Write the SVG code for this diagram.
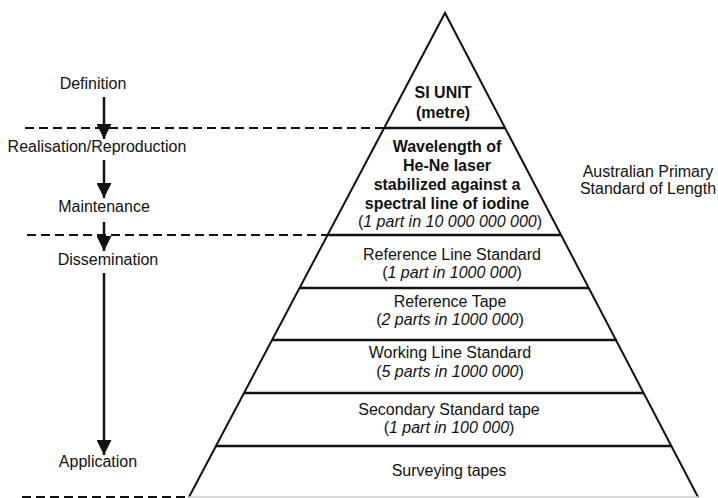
<svg xmlns="http://www.w3.org/2000/svg" width="718" height="498" viewBox="0 0 718 498">
  <style>
    text { font-family: "Liberation Sans", Arial, sans-serif; font-size: 16px; fill: #111; text-anchor: middle; }
    .b { font-weight: bold; }
    .i { font-style: italic; }
    .edge { stroke: #111; stroke-width: 2; fill: none; stroke-linejoin: miter; }
    .tier { stroke: #111; stroke-width: 2.5; }
    .dash { stroke: #111; stroke-width: 2; stroke-dasharray: 9 5; }
    .flow { stroke: #111; stroke-width: 2.5; }
  </style>
  <defs>
    <marker id="head" viewBox="0 0 10 10" refX="10" refY="5" markerWidth="6" markerHeight="6" markerUnits="strokeWidth" orient="auto">
      <path d="M0,0 L10,5 L0,10 Z" fill="#111"/>
    </marker>
  </defs>

  <rect width="718" height="498" fill="#fff"/>

  <!-- pyramid outline and tier divisions -->
  <g id="pyramid">
    <path class="edge" d="M189,497 L445,13 L698,497"/>
    <line x1="189" y1="497" x2="698" y2="497" stroke="#ccc" stroke-width="1.5"/>
    <line class="tier" x1="384" y1="128" x2="505" y2="128"/>
    <line class="tier" x1="327" y1="235" x2="561" y2="235"/>
    <line class="tier" x1="300" y1="288" x2="589" y2="288"/>
    <line class="tier" x1="272" y1="340" x2="617" y2="340"/>
    <line class="tier" x1="244" y1="393" x2="644" y2="393"/>
    <line class="tier" x1="216" y1="446" x2="672" y2="446"/>
  </g>

  <!-- boundaries between stages -->
  <g id="boundaries">
    <line class="dash" x1="25" y1="128" x2="384" y2="128"/>
    <line class="dash" x1="27" y1="235" x2="327" y2="235"/>
    <line class="dash" x1="22" y1="497" x2="189" y2="497"/>
  </g>

  <!-- stage flow arrows -->
  <g id="connectors">
    <line class="flow" x1="104" y1="97" x2="104" y2="139" marker-end="url(#head)"/>
    <line class="flow" x1="104" y1="160" x2="104" y2="198" marker-end="url(#head)"/>
    <line class="flow" x1="104" y1="222" x2="104" y2="251" marker-end="url(#head)"/>
    <line class="flow" x1="104" y1="273" x2="104" y2="455" marker-end="url(#head)"/>
  </g>

  <!-- stage labels -->
  <g id="stage-definition"><text x="93" y="89">Definition</text></g>
  <g id="stage-realisation"><text x="97" y="152">Realisation/Reproduction</text></g>
  <g id="stage-maintenance"><text x="104" y="212">Maintenance</text></g>
  <g id="stage-dissemination"><text x="108" y="265">Dissemination</text></g>
  <g id="stage-application"><text x="98" y="467">Application</text></g>

  <!-- pyramid tiers -->
  <g id="tier-si-unit">
    <text class="b" x="443" y="98">SI UNIT</text>
    <text class="b" x="443" y="118">(metre)</text>
  </g>
  <g id="tier-laser">
    <text class="b" x="447" y="152">Wavelength of</text>
    <text class="b" x="447" y="171">He-Ne laser</text>
    <text class="b" x="447" y="190">stabilized against a</text>
    <text class="b" x="447" y="209">spectral line of iodine</text>
    <text x="450" y="227">(<tspan class="i">1 part in 10 000 000 000</tspan>)</text>
  </g>
  <g id="tier-reference-line">
    <text x="452" y="260">Reference Line Standard</text>
    <text x="452" y="278">(<tspan class="i">1 part in 1000 000</tspan>)</text>
  </g>
  <g id="tier-reference-tape">
    <text x="450" y="307">Reference Tape</text>
    <text x="450" y="325">(<tspan class="i">2 parts in 1000 000</tspan>)</text>
  </g>
  <g id="tier-working-line">
    <text x="450" y="358">Working Line Standard</text>
    <text x="450" y="377">(<tspan class="i">5 parts in 1000 000</tspan>)</text>
  </g>
  <g id="tier-secondary-tape">
    <text x="449" y="415">Secondary Standard tape</text>
    <text x="449" y="433">(<tspan class="i">1 part in 100 000</tspan>)</text>
  </g>
  <g id="tier-surveying">
    <text x="449" y="476">Surveying tapes</text>
  </g>

  <!-- side annotation -->
  <g id="primary-standard">
    <text x="648" y="177">Australian Primary</text>
    <text x="648" y="194">Standard of Length</text>
  </g>
</svg>
